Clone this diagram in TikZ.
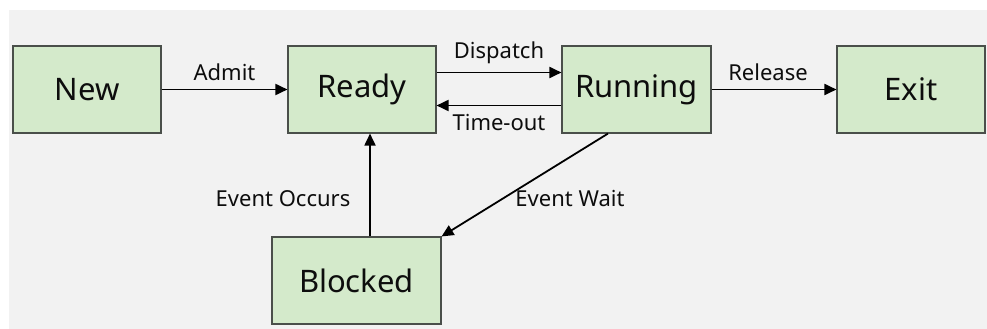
\documentclass[tikz,border=0pt]{standalone}
\usepackage{fontspec}
\setmainfont{Noto Sans}
\usetikzlibrary{arrows.meta}

\definecolor{bggrey}{HTML}{F2F2F2}
\definecolor{stategreen}{HTML}{D4EACB}
\definecolor{boxedge}{HTML}{4A4F4A}

\tikzset{
  state/.style={draw=boxedge, fill=stategreen, line width=1.1pt, minimum width=148pt,
    minimum height=87pt, inner sep=0pt, text=black!95, font=\fontsize{31}{37}\selectfont},
  trans/.style={line width=1.8pt, -{Triangle[length=12pt,width=11pt]}},
  lbl/.style={font=\fontsize{22}{26}\selectfont, text=black!95, inner sep=0pt}
}

\begin{document}
\begin{tikzpicture}[x=1pt, y=-1pt]
\useasboundingbox (0,0) rectangle (987,329);
\fill[bggrey] (9,10) rectangle (987,329);

% states
\node[state] (new) at (87,89.5) {New};
\node[state] (ready) at (362,89.5) {Ready};
\node[state, minimum width=149pt] (running) at (636.5,89.5) {Running};
\node[state] (exit) at (911,89.5) {Exit};
\node[state, minimum width=169pt] (blocked) at (356.5,280.5) {Blocked};

% transitions
\draw[trans] (new) -- node[lbl, above=8pt] {Admit} (ready);
\draw[trans] ([yshift=17pt]ready.east) -- node[lbl, above=8pt] {Dispatch} ([yshift=17pt]running.west);
\draw[trans] ([yshift=-16pt]running.west) -- node[lbl, below=8pt] {Time-out} ([yshift=-16pt]ready.east);
\draw[trans] (running) -- node[lbl, above=8pt, xshift=-6pt] {Release} (exit);
\draw[trans] ([xshift=13.5pt]blocked.north) -- ([xshift=8pt]ready.south);
\draw[trans] ([xshift=-28.5pt]running.south) -- (blocked.north east);

% side labels
\node[lbl] (occurslbl) at (283,199) {Event Occurs};
\node[lbl] (waitlbl) at (570,199) {Event Wait};
\end{tikzpicture}
\end{document}
